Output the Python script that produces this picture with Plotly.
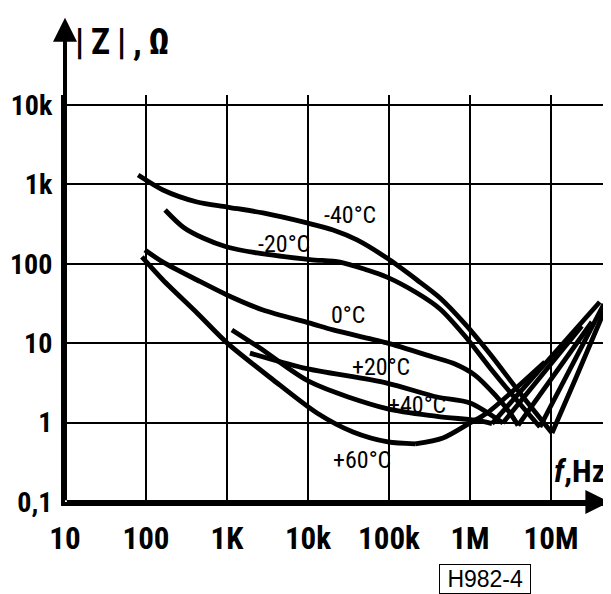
import plotly.graph_objects as go

# ---------------- data ----------------
x_tick_vals = [10, 100, 1e3, 1e4, 1e5, 1e6, 1e7]
x_tick_text = ["10", "100", "1K", "10k", "100k", "1M", "10M"]
y_tick_vals = [0.1, 1, 10, 100, 1000, 10000]
y_tick_text = ["0,1", "1", "10", "100", "1k", "10k"]

f_m40 = [80, 162, 427, 1000, 2780, 9730, 20400, 40300, 94400, 222000, 427000, 867000, 1.77e6, 4.14e6, 10.3e6, 19.8e6, 52e6]
z_m40 = [1310, 850, 600, 519, 437, 327, 267, 200, 118, 62.5, 37.1, 17.5, 7.31, 2.36, 0.74, 3.44, 35]

f_m20 = [172, 286, 506, 1000, 2340, 10600, 24800, 53500, 94400, 222000, 427000, 867000, 1.77e6, 3.59e6, 7.3e6, 45e6]
z_m20 = [476, 291, 211, 163, 137, 113, 105, 83.6, 68, 42.9, 27.0, 12.3, 4.88, 2.04, 0.88, 31]

f_0 = [97, 162, 427, 1000, 2780, 10600, 20400, 53500, 94400, 349000, 653000, 1.15e6, 2.04e6, 3.12e6, 3.92e6, 32e6]
z_0 = [149, 105, 62.5, 40.5, 26.2, 17.9, 14.7, 11.6, 10.1, 6.7, 5.47, 3.97, 2.23, 1.32, 0.92, 18.5]

f_p20 = [1920, 8670, 94000, 392000, 1.0e6, 2.55e6, 24e6]
z_p20 = [7.5, 4.9, 3.15, 2.1, 1.77, 0.99, 16.5]

f_p40 = [1150, 2550, 10600, 94000, 392000, 1.33e6, 1.87e6, 40e6]
z_p40 = [14.7, 8.7, 3.25, 1.5, 1.2, 1.05, 0.97, 33]

f_p60 = [89, 162, 427, 1000, 3600, 12900, 36000, 97000, 210000, 464000, 1.0e6, 1.62e6, 8.4e6]
z_p60 = [122, 62.5, 24, 10.1, 3.54, 1.32, 0.76, 0.57, 0.54, 0.64, 0.99, 1.32, 5.8]

curves = [
    ("-40°C", f_m40, z_m40),
    ("-20°C", f_m20, z_m20),
    ("0°C", f_0, z_0),
    ("+20°C", f_p20, z_p20),
    ("+40°C", f_p40, z_p40),
    ("+60°C", f_p60, z_p60),
]

# label positions (log10 f, log10 |Z|)
labels = {
    "-40°C": (4.52, 2.62),
    "-20°C": (3.70, 2.25),
    "0°C": (4.49, 1.36),
    "+20°C": (4.90, 0.70),
    "+40°C": (5.35, 0.22),
    "+60°C": (4.67, -0.47),
}

NARROW = "Liberation Sans Narrow, Roboto Condensed, Liberation Sans, Arial"

fig = go.Figure()
for name, f, z in curves:
    imin = min(range(len(z)), key=lambda i: z[i])
    for seg_f, seg_z in ((f[:imin + 1], z[:imin + 1]), (f[imin:], z[imin:])):
        fig.add_trace(go.Scatter(
            x=seg_f, y=seg_z, mode="lines", name=name,
            line=dict(color="black", width=4.8, shape="spline", smoothing=0.8),
            hoverinfo="skip", showlegend=False,
        ))

annotations = []
for name, (lx, ly) in labels.items():
    annotations.append(dict(x=lx, y=ly, xref="x", yref="y", text=name, showarrow=False,
                            font=dict(family=NARROW, size=24, color="black")))

# axis arrows
annotations.append(dict(x=0, y=1.19, xref="paper", yref="paper", ax=0, ay=484,
                        axref="pixel", ayref="pixel", text="", showarrow=True,
                        arrowhead=2, arrowsize=1.2, arrowwidth=4, arrowcolor="black", standoff=0))
annotations.append(dict(x=0.997, y=0, xref="paper", yref="paper", ax=-544, ay=0,
                        axref="pixel", ayref="pixel", text="", showarrow=True,
                        arrowhead=2, arrowsize=1.2, arrowwidth=4, arrowcolor="black", standoff=0))

annotations.append(dict(x=0.015, y=1.13, xref="paper", yref="paper", xanchor="left", yanchor="middle",
                        text="|\u2009Z\u2009|\u2009,\u2009Ω", showarrow=False,
                        font=dict(family=NARROW, size=36, color="black", weight="bold")))
annotations.append(dict(x=0.892, y=0.076, xref="paper", yref="paper", xanchor="left", yanchor="middle",
                        text="<i>f</i>,Hz", showarrow=False,
                        font=dict(family=NARROW, size=32, color="black", weight="bold")))
annotations.append(dict(x=0.769, y=-0.189, xref="paper", yref="paper", xanchor="center", yanchor="middle",
                        text=" H982-4 ", showarrow=False, bordercolor="black", borderwidth=1, borderpad=1,
                        font=dict(family="Liberation Sans, Arial", size=23, color="black")))

# the page places the figure 8 px in from the top-left corner, so the
# figure is 8 px smaller and the margins compensate for the offset
fig.update_layout(
    width=603, height=586,
    margin=dict(l=57, r=0, t=87, b=92, autoexpand=False),
    plot_bgcolor="white", paper_bgcolor="white",
    showlegend=False,
    annotations=annotations,
    xaxis=dict(type="log", range=[1, 7.741], tickvals=x_tick_vals, ticktext=x_tick_text,
               automargin=False,
               showgrid=True, gridcolor="black", gridwidth=1.5, zeroline=False,
               showline=True, linecolor="black", linewidth=4, ticks="",
               ticklabelstandoff=6,
               tickfont=dict(family=NARROW, size=31, color="black", weight="bold")),
    yaxis=dict(type="log", range=[-1, 4.126], tickvals=y_tick_vals, ticktext=y_tick_text,
               automargin=False,
               showgrid=True, gridcolor="black", gridwidth=1.5, zeroline=False,
               showline=True, linecolor="black", linewidth=4, ticks="",
               ticklabelstandoff=3,
               tickfont=dict(family=NARROW, size=28, color="black", weight="bold")),
)

fig.write_html("out.html")
